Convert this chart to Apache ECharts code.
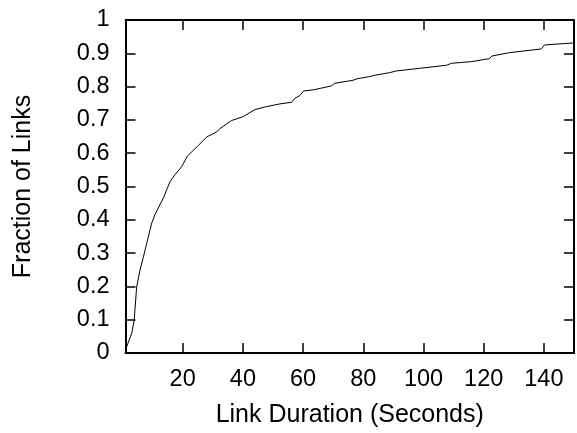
<!DOCTYPE html>
<html>
<head>
<meta charset="utf-8">
<script src="https://cdn.jsdelivr.net/npm/echarts@6/dist/echarts.min.js"></script>
<style>
html,body{margin:0;padding:0;background:#fff;}
#c{width:577px;height:433px;}
</style>
</head>
<body>
<div id="c"></div>
<script>
// Link duration (seconds)
var durations = [1, 3.1, 3.9, 4.7, 5.8, 6.9, 9.7, 10.8, 13.6, 15.8, 17.4, 19.7, 21.6, 24.4, 28, 31.3, 32.4, 36.2, 40.1, 44, 47.9, 52.3, 56.2, 57.3, 58.9, 60.2, 63.3, 69.4, 70.5, 76.6, 78.2, 82, 83.8, 88.8, 91, 98.7, 107.6, 109.3, 115.9, 121.9, 122.8, 128.6, 139.1, 140.2, 149.6, 150];
// Fraction of links (CDF)
var fractions = [0.01, 0.06, 0.10, 0.198, 0.248, 0.287, 0.39, 0.416, 0.466, 0.515, 0.535, 0.56, 0.592, 0.616, 0.649, 0.664, 0.674, 0.698, 0.71, 0.731, 0.74, 0.748, 0.753, 0.765, 0.773, 0.787, 0.79, 0.802, 0.81, 0.819, 0.824, 0.83, 0.834, 0.842, 0.847, 0.855, 0.864, 0.87, 0.875, 0.884, 0.892, 0.902, 0.913, 0.925, 0.931, 0.931];
var xTicks = [20, 40, 60, 80, 100, 120, 140];
var yTicks = [0, 0.1, 0.2, 0.3, 0.4, 0.5, 0.6, 0.7, 0.8, 0.9, 1];

var FONT = 'Liberation Sans';
var chart = echarts.init(document.getElementById('c'), null, {renderer: 'canvas'});
var axisLineStyle = {color: '#000', width: 2};
var tickStyle = {color: '#000', width: 1.5};

var data = durations.map(function (d, i) { return [d, fractions[i]]; });

chart.setOption({
  animation: false,
  backgroundColor: '#fff',
  grid: {left: 125.5, right: 3, top: 20, bottom: 76.5, containLabel: false},
  xAxis: [{
    type: 'value', min: 1, max: 150, position: 'bottom',
    name: 'Link Duration (Seconds)', nameLocation: 'middle', nameGap: 50,
    nameTextStyle: {fontFamily: FONT, fontSize: 25, color: '#000'},
    axisLine: {show: true, onZero: false, lineStyle: axisLineStyle},
    axisTick: {show: true, inside: true, length: 10, customValues: xTicks, lineStyle: tickStyle},
    axisLabel: {show: true, margin: 15, customValues: xTicks, fontFamily: FONT, fontSize: 23.5, color: '#000'},
    splitLine: {show: false}
  }, {
    type: 'value', min: 1, max: 150, position: 'top',
    axisLine: {show: true, onZero: false, lineStyle: axisLineStyle},
    axisTick: {show: true, inside: true, length: 10, customValues: xTicks, lineStyle: tickStyle},
    axisLabel: {show: false},
    splitLine: {show: false}
  }],
  yAxis: [{
    type: 'value', min: 0, max: 1, position: 'left',
    name: 'Fraction of Links', nameLocation: 'middle', nameGap: 90, nameRotate: 90,
    nameTextStyle: {fontFamily: FONT, fontSize: 25, color: '#000'},
    axisLine: {show: true, onZero: false, lineStyle: axisLineStyle},
    axisTick: {show: true, inside: true, length: 10, customValues: yTicks, lineStyle: tickStyle},
    axisLabel: {show: true, margin: 16, customValues: yTicks, fontFamily: FONT, fontSize: 23.5, color: '#000'},
    splitLine: {show: false}
  }, {
    type: 'value', min: 0, max: 1, position: 'right',
    axisLine: {show: true, onZero: false, lineStyle: axisLineStyle},
    axisTick: {show: true, inside: true, length: 10, customValues: yTicks, lineStyle: tickStyle},
    axisLabel: {show: false},
    splitLine: {show: false}
  }],
  series: [{
    type: 'line',
    data: data,
    xAxisIndex: 0, yAxisIndex: 0,
    showSymbol: false,
    smooth: false,
    lineStyle: {color: '#000', width: 1},
    clip: true
  }]
});
</script>
</body>
</html>
